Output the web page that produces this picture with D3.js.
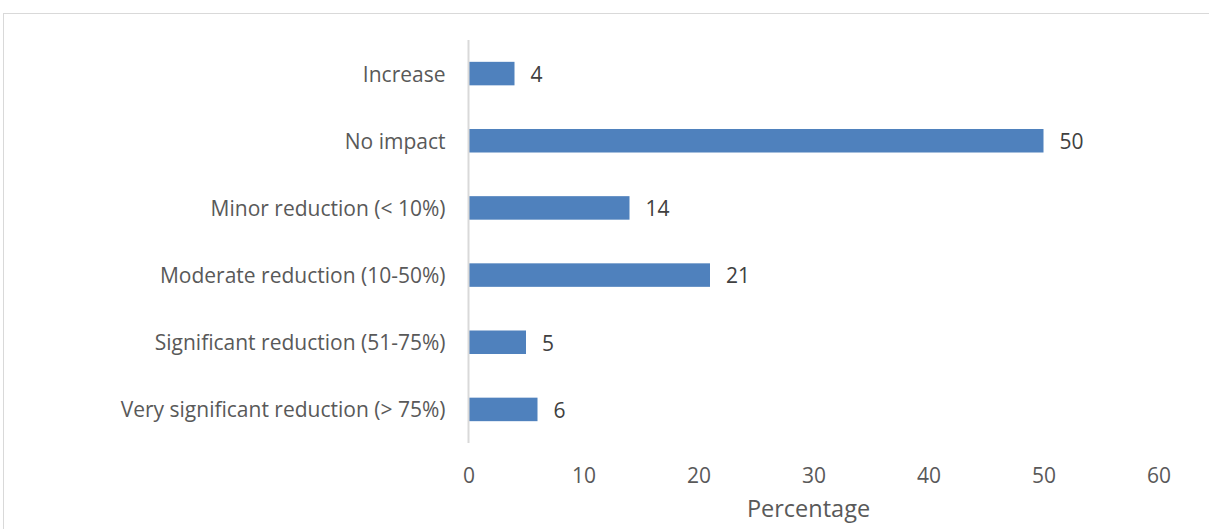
<!DOCTYPE html>
<html>
<head>
<meta charset="utf-8">
<script src="https://cdn.jsdelivr.net/npm/d3@7"></script>
<style>
  html, body { margin: 0; padding: 0; background: #fff; }
  svg text { font-family: "Open Sans", "Noto Sans", sans-serif; }
</style>
</head>
<body>
<svg id="chart" width="1209" height="529"></svg>
<script>
// Responses by impact category (percentage)
const categories = [
  "Increase",
  "No impact",
  "Minor reduction (< 10%)",
  "Moderate reduction (10-50%)",
  "Significant reduction (51-75%)",
  "Very significant reduction (> 75%)"
];
const values = [4, 50, 14, 21, 5, 6];
const xTicks = [0, 10, 20, 30, 40, 50, 60];
const xTitle = "Percentage";

const svg = d3.select("#chart");
const W = 1209, H = 529;
const plotLeft = 468.5, plotRight = 1158.5, plotTop = 40, plotBottom = 443;
const labelSize = 21, titleSize = 23.5;

// chart area outline
svg.append("rect")
  .attr("x", 3.5).attr("y", 13.5)
  .attr("width", W + 10).attr("height", H + 10)
  .attr("fill", "#fff").attr("stroke", "#d9d9d9").attr("stroke-width", 1);

const x = d3.scaleLinear().domain([0, 60]).range([plotLeft, plotRight]);
const y = d3.scaleBand().domain(categories).range([plotTop, plotBottom]).paddingInner(0.65).paddingOuter(0.325);

// bars
svg.append("g").selectAll("rect")
  .data(categories)
  .join("rect")
  .attr("x", x(0))
  .attr("y", d => y(d))
  .attr("width", (d, i) => x(values[i]) - x(0))
  .attr("height", y.bandwidth())
  .attr("fill", "#4f81bd");

// value labels
svg.append("g").selectAll("text")
  .data(categories)
  .join("text")
  .attr("x", (d, i) => x(values[i]) + 16)
  .attr("y", d => y(d) + y.bandwidth() / 2 + 1)
  .attr("dy", "0.35em")
  .attr("font-size", labelSize)
  .attr("fill", "#404040")
  .text((d, i) => values[i]);

// category axis (vertical line, no ticks)
const yAxis = svg.append("g")
  .attr("transform", `translate(${x(0)},0)`)
  .call(d3.axisLeft(y).tickSize(0).tickPadding(23));
yAxis.select(".domain").attr("stroke", "#d9d9d9").attr("stroke-width", 2)
  .attr("d", `M0,${plotTop}V${plotBottom}`);
yAxis.selectAll("text").attr("font-size", labelSize).attr("fill", "#595959")
  .attr("dy", "0.38em")
  .style("font-family", '"Open Sans", "Noto Sans", sans-serif');

// value axis (labels only)
const xAxis = svg.append("g")
  .attr("transform", `translate(0,${plotBottom})`)
  .call(d3.axisBottom(x).tickValues(xTicks).tickSize(0).tickPadding(25));
xAxis.select(".domain").remove();
xAxis.selectAll("text").attr("font-size", labelSize).attr("fill", "#595959")
  .style("font-family", '"Open Sans", "Noto Sans", sans-serif');

// axis title
svg.append("text")
  .attr("x", (plotLeft + plotRight) / 2 - 5)
  .attr("y", 517)
  .attr("text-anchor", "middle")
  .attr("font-size", titleSize)
  .attr("fill", "#595959")
  .text(xTitle);
</script>
</body>
</html>
